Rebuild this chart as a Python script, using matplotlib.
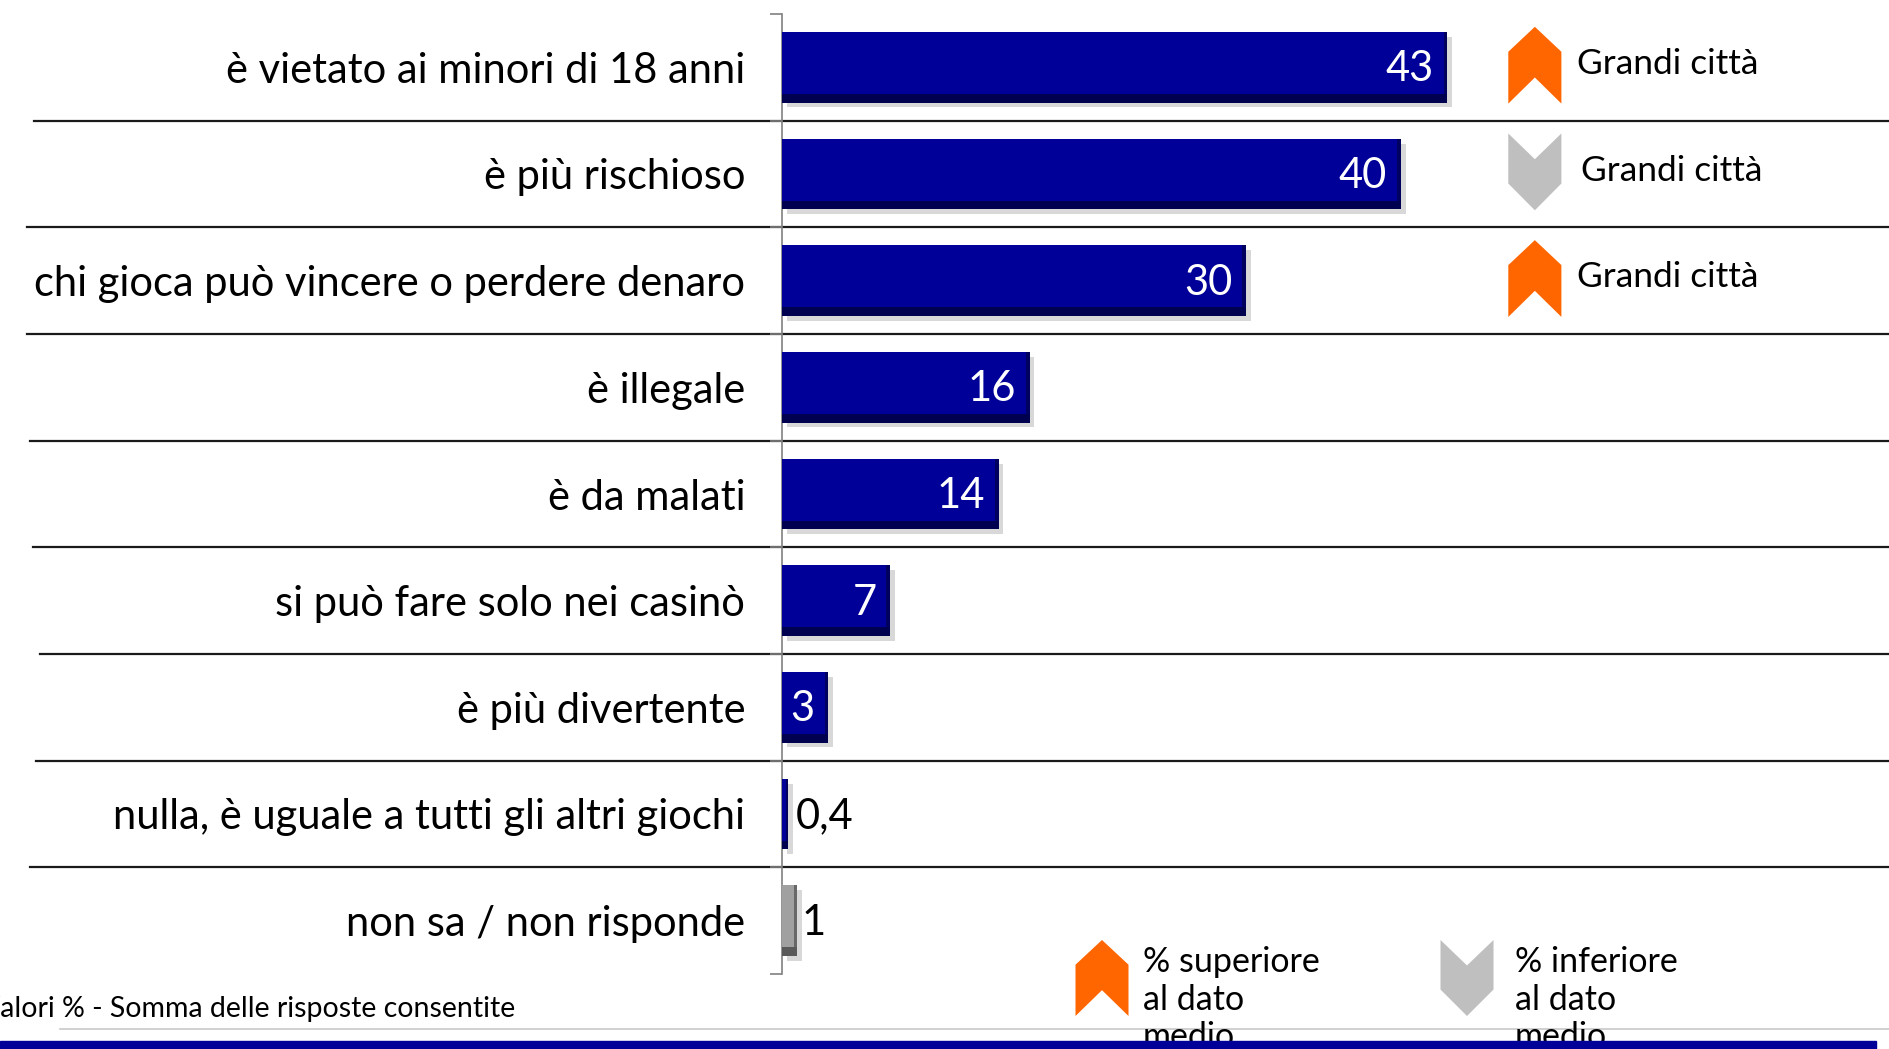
import numpy as np
import matplotlib
matplotlib.use('Agg')
import matplotlib.pyplot as plt
from matplotlib.patches import Polygon, Rectangle
from matplotlib.lines import Line2D
from matplotlib.transforms import blended_transform_factory

plt.rcParams['font.family'] = ['Lato', 'DejaVu Sans']

# Data
categories = ['è vietato ai minori di 18 anni', 'è più rischioso',
              'chi gioca può vincere o perdere denaro', 'è illegale', 'è da malati',
              'si può fare solo nei casinò', 'è più divertente',
              'nulla, è uguale a tutti gli altri giochi', 'non sa / non risponde']
values = [43, 40, 30, 16, 14, 7, 3, 0.4, 1]
value_labels = ['43', '40', '30', '16', '14', '7', '3', '0,4', '1']
bar_colors = ['#000099'] * 8 + ['#A0A0A0']
edge_colors = ['#000050'] * 8 + ['#5a5a5a']

note_rows = [0, 1, 2]
note_dirs = ['up', 'down', 'up']
note_text = 'Grandi città'
legend_labels = ['% superiore\nal dato\nmedio', '% inferiore\nal dato\nmedio']
footnote = 'Valori % - Somma delle risposte consentite'

ORANGE = '#FF6600'
GREY = '#BFBFBF'

W, H = 1890, 1049
fig = plt.figure(figsize=(W / 100, H / 100), dpi=100)
ax = fig.add_axes([782 / W, 75 / H, 1108 / W, 960 / H])

y = np.arange(len(categories))
vals = np.array(values)

# shadow, bar, darker bevel at bottom/right
ax.barh(y + 0.045, vals, left=0.3, height=0.66, color='#c8c8c8', alpha=0.7, zorder=2)
ax.barh(y, vals, height=0.66, color=bar_colors, zorder=3)
ax.barh(y + 0.29, vals, height=0.08, color=edge_colors, zorder=4)
rw = np.minimum(0.25, vals * 0.3)
ax.barh(y, rw, left=vals - rw, height=0.66, color=edge_colors, alpha=0.8, zorder=4)

for i, (v, lab) in enumerate(zip(values, value_labels)):
    if v >= 3:
        ax.text(v - 0.9, i + 0.02, lab, color='white', fontsize=30, ha='right', va='center', zorder=5)
    else:
        ax.text(v + (0.5 if v < 1 else 0.25), i + 0.02, lab, color='black', fontsize=30,
                ha='left', va='center', zorder=5)

ax.set_xlim(0, 71.6)
ax.set_ylim(len(categories) - 0.5, -0.5)
ax.set_yticks(y, categories)
ax.set_yticks(np.arange(-0.5, len(categories), 1), minor=True)
ax.tick_params(axis='y', which='major', length=0, pad=26.5, labelsize=30)
ax.tick_params(axis='y', which='minor', length=8.5, width=1.2, color='#808080')
ax.set_xticks([])
for s in ['top', 'right', 'bottom']:
    ax.spines[s].set_visible(False)
ax.spines['left'].set_color('#808080')
ax.spines['left'].set_linewidth(1.2)

# row separators (table borders)
sep_start = [34, 27, 27, 30, 33, 40, 36, 30]
tr = blended_transform_factory(fig.transFigure, ax.transData)
for i, x0 in enumerate(sep_start):
    ax.plot([x0 / W, 1], [i + 0.5, i + 0.5], transform=tr, color='#1a1a1a',
            lw=1.6, clip_on=False, zorder=1)


def chevron(cx, cy, w, h, up, sign=1):
    if up:
        pts = [(0, 0.675), (0.5, 1), (1, 0.675), (1, 0), (0.5, 0.34), (0, 0)]
    else:
        pts = [(0, 1), (0.5, 0.665), (1, 1), (1, 0.348), (0.5, 0), (0, 0.348)]
    return [(cx + (u - 0.5) * w, cy + sign * (v - 0.5) * h) for u, v in pts]


for r, d in zip(note_rows, note_dirs):
    up = d == 'up'
    ax.add_patch(Polygon(chevron(48.65, r - 0.02, 3.43, 0.72, up, sign=-1),
                         closed=True, color=ORANGE if up else GREY, lw=0, clip_on=False))
    ax.text(51.4 if up else 51.6, r - 0.03, note_text, fontsize=25.5, va='center', ha='left')

# bottom legend
for (cx, tx), lab, up in zip([(1102, 1143), (1467, 1515)], legend_labels, [True, False]):
    pts = chevron(cx / W, 1 - 978 / H, 53 / W, 76 / H, up)
    fig.add_artist(Polygon(pts, closed=True, color=ORANGE if up else GREY, lw=0,
                           transform=fig.transFigure))
    fig.text(tx / W, 1 - 946 / H, lab, fontsize=24.5, va='top', ha='left', linespacing=1.22)

fig.text(-19 / W, 1 - 1009 / H, footnote, fontsize=20.5, va='center', ha='left')
fig.add_artist(Line2D([60 / W, 1], [1 - 1029 / H] * 2, color='#c8c8c8', lw=1.2,
                      transform=fig.transFigure))
fig.add_artist(Rectangle((0, 0), 1876 / W, 8 / H, color='#000099', zorder=10,
                         transform=fig.transFigure))

fig.savefig('out.png', dpi=100)
